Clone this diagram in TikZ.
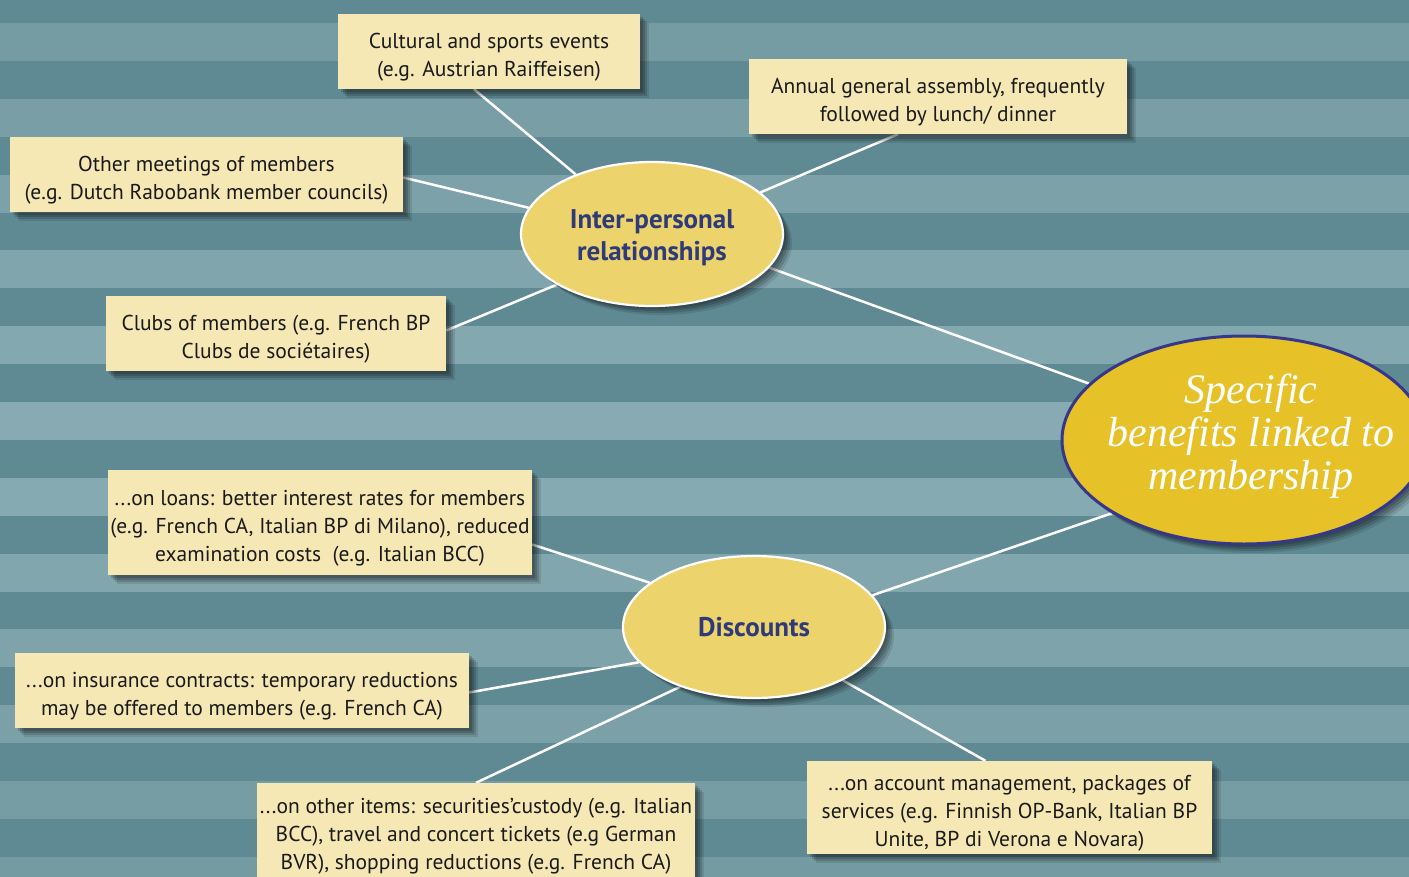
\documentclass[tikz,border=0pt]{standalone}
\usepackage{fontspec}
\setmainfont{PT Sans}
\newfontfamily\titlefont{Liberation Serif}
\usetikzlibrary{shapes.geometric,calc}
\definecolor{bgdark}{HTML}{5F8A93}
\definecolor{lightedge}{HTML}{749AA2}
\definecolor{lightmid}{HTML}{89ACB4}
\definecolor{boxfill}{HTML}{F6E8B5}
\definecolor{ellfill}{HTML}{ECD36B}
\definecolor{bigfill}{HTML}{E6C128}
\definecolor{navy}{HTML}{2F3A7A}
\definecolor{bignavy}{HTML}{37378A}
\definecolor{txt}{HTML}{1A1A1A}
\newcommand\boxstrut{\rule{0pt}{26.5pt}}
\newcommand\ellstrut{\rule{0pt}{26pt}}
\newcommand\tline[1]{\hspace*{14pt}#1}
\pgfdeclarelayer{back}
\pgfdeclarelayer{lines}
\pgfsetlayers{back,lines,main}
\tikzset{
  softshadow/.style={
    preaction={fill=black, opacity=0.16, transform canvas={xshift=3pt,yshift=-3pt}},
    preaction={fill=black, opacity=0.16, transform canvas={xshift=5pt,yshift=-5pt}},
    preaction={fill=black, opacity=0.14, transform canvas={xshift=7pt,yshift=-7pt}},
    preaction={fill=black, opacity=0.10, transform canvas={xshift=9pt,yshift=-9pt}}},
  infobox/.style={softshadow, fill=boxfill, draw=none, inner sep=0pt, align=center, text=txt,
    font=\fontsize{21.5}{28}\selectfont},
  subell/.style={softshadow, ellipse, fill=ellfill, draw=white, line width=2.2pt, inner sep=0pt,
    text=navy, align=center, font=\bfseries\fontsize{27}{32}\selectfont},
  bigell/.style={softshadow, ellipse, fill=bigfill, draw=bignavy, line width=3pt,
    inner xsep=-80pt, inner ysep=-40pt,
    text=white, align=center, font=\titlefont\itshape\fontsize{42}{43}\selectfont},
  link/.style={draw=white, line width=2.5pt}
}
\begin{document}
\begin{tikzpicture}[x=1pt,y=-1pt]
\useasboundingbox (0,0) rectangle (1409,876);
\begin{pgfonlayer}{back}
  \fill[bgdark] (0,0) rectangle (1409,876);
  \foreach \k in {0,...,11} {
    \pgfmathsetmacro\ya{23+2*\k*37.9}
    \pgfmathsetmacro\yb{\ya+37.9}
    \pgfmathsetmacro\t{max(0,100-abs(\ya+19-440)/4.2)}
    \fill[lightmid!\t!lightedge] (0,\ya) rectangle (1409,\yb);
  }
\end{pgfonlayer}

% boxes
\node[infobox, minimum width=302pt, minimum height=75pt] (cult) at (489,51.5)
  {\boxstrut Cultural and sports events\\(e.g. Austrian Raiffeisen)};
\node[infobox, minimum width=378pt, minimum height=75pt] (ann) at (938,96.5)
  {\boxstrut Annual general assembly, frequently\\followed by lunch/ dinner};
\node[infobox, minimum width=393pt, minimum height=75pt] (om) at (206.5,174.5)
  {\boxstrut Other meetings of members\\(e.g. Dutch Rabobank member councils)};
\node[infobox, minimum width=340pt, minimum height=75pt] (clubs) at (276,333.5)
  {\boxstrut Clubs of members (e.g. French BP\\Clubs de sociétaires)};
\node[infobox, minimum width=424pt, minimum height=105pt] (loans) at (320,522.5)
  {\boxstrut ...on loans: better interest rates for members\\(e.g. French CA, Italian BP di Milano), reduced\\examination costs~~(e.g. Italian BCC)};
\node[infobox, minimum width=454pt, minimum height=75pt] (ins) at (242,690.5)
  {\boxstrut ...on insurance contracts: temporary reductions\\may be offered to members (e.g. French CA)};
\node[infobox, minimum width=438pt, minimum height=95pt] (oth) at (476,830.5)
  {\boxstrut ...on other items: securities'custody (e.g. Italian\\BCC), travel and concert tickets (e.g German\\BVR), shopping reductions (e.g. French CA)};
\node[infobox, minimum width=405pt, minimum height=93pt] (acc) at (1009.5,807.5)
  {\boxstrut ...on account management, packages of\\services (e.g. Finnish OP-Bank, Italian BP\\Unite, BP di Verona e Novara)};

% ellipses
\node[subell, minimum width=262pt, minimum height=144pt] (ip) at (652,234)
  {\ellstrut Inter-personal\\relationships};
\node[subell, minimum width=262pt, minimum height=142pt] (disc) at (754,627)
  {Discounts};
\node[bigell, minimum width=364pt, minimum height=208pt] (big) at (1244,440)
  {\tline{Specific}\\\tline{benefits linked to}\\\tline{membership}\rule[-16pt]{0pt}{1pt}};

% connectors
\begin{pgfonlayer}{lines}
  \draw[link] ($(cult.south)+(-15,0)$) -- (ip.142);
  \draw[link] ($(ann.south)+(-40,0)$) -- (ip.21);
  \draw[link] ($(om.east)+(0,3)$) -- (ip.168);
  \draw[link] ($(clubs.east)+(0,-3)$) -- (ip.208);
  \draw[link] (ip.344) -- (big.160);
  \draw[link] (big.209) -- (disc.15);
  \draw[link] ($(loans.east)+(0,22)$) -- (disc.157);
  \draw[link] ($(ins.east)+(0,2)$) -- (disc.197);
  \draw[link] (oth.north) -- (disc.219);
  \draw[link] ($(acc.north)+(-24,0)$) -- (disc.329);
\end{pgfonlayer}
\end{tikzpicture}
\end{document}
